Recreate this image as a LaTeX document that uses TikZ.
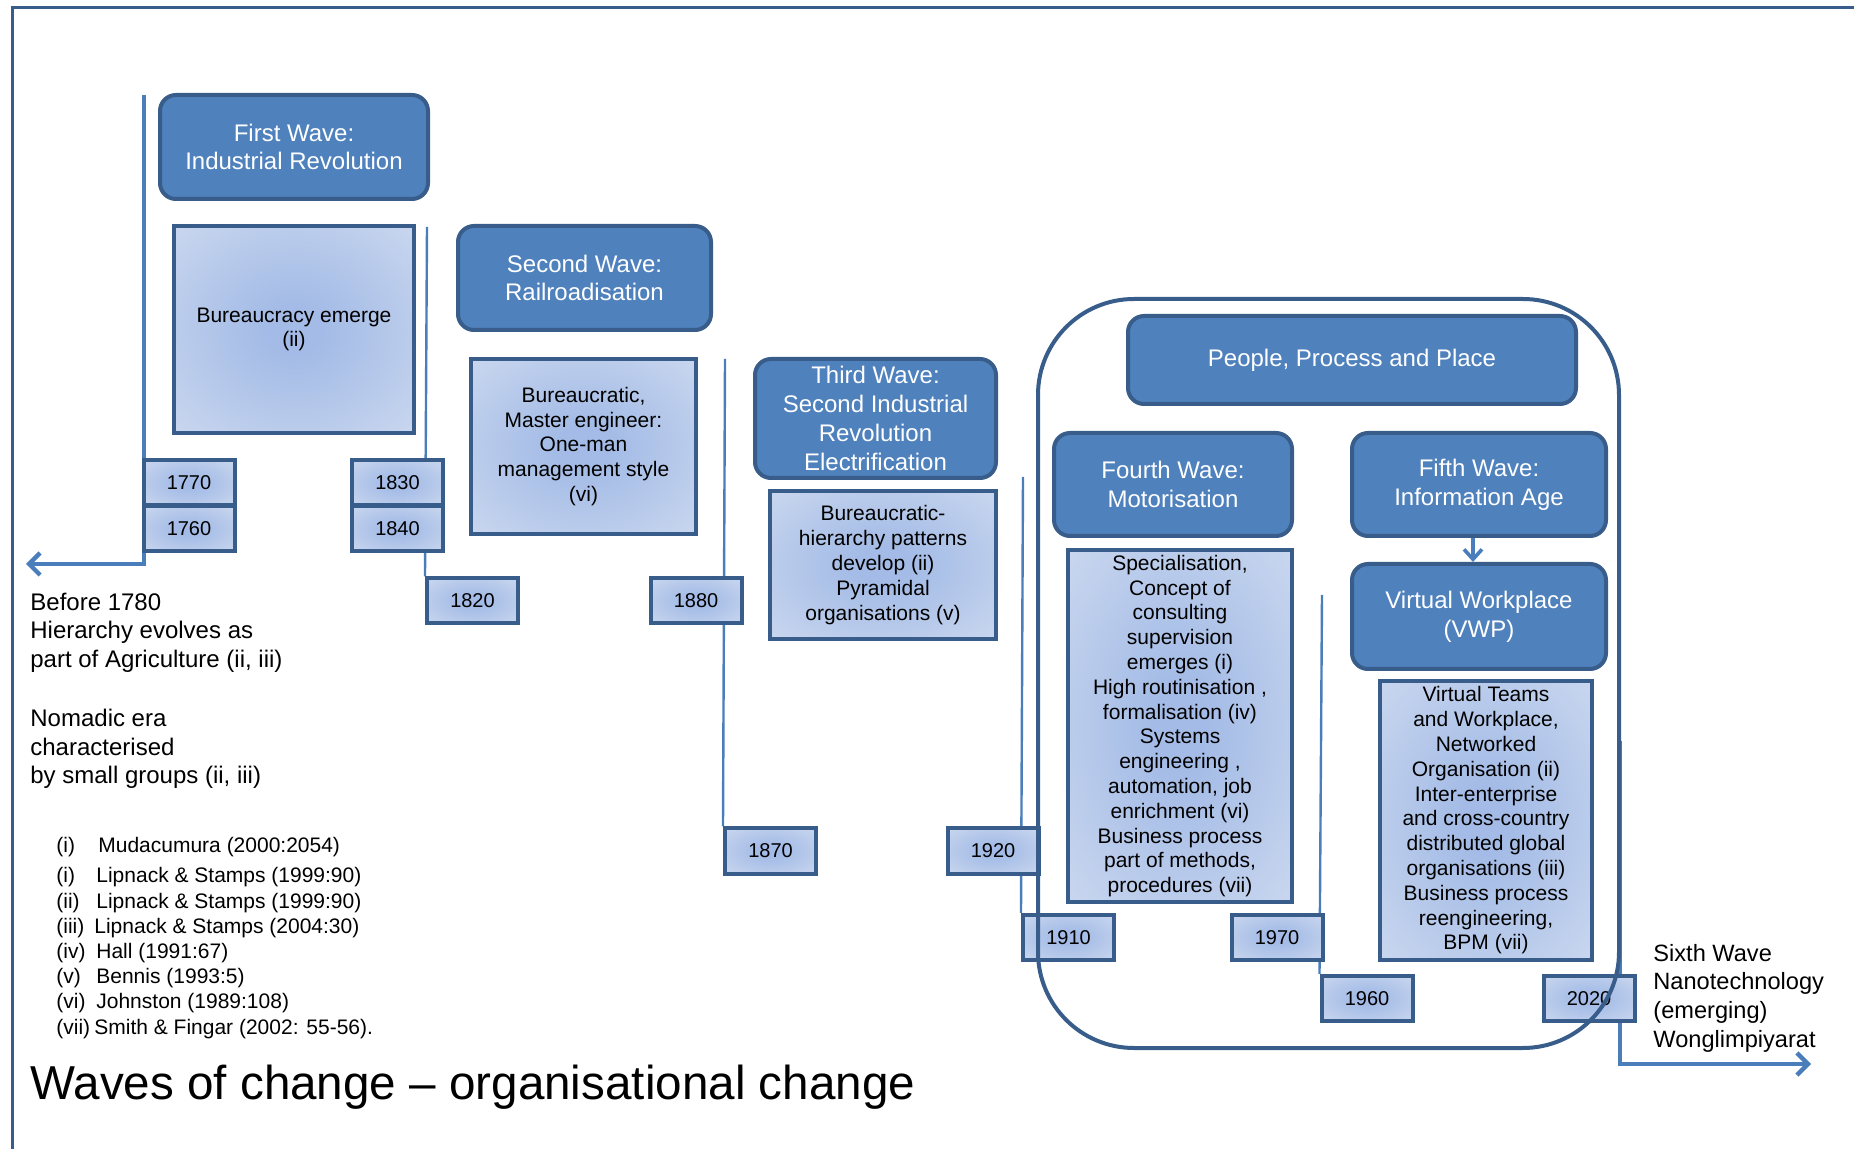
\documentclass[tikz,border=0pt]{standalone}
\usepackage{fontspec}
\setmainfont{Liberation Sans}
\usetikzlibrary{arrows.meta}

\definecolor{waveblue}{HTML}{4F81BD}
\definecolor{edgeblue}{HTML}{385D8A}
\definecolor{lineblue}{HTML}{4A7EBB}
\definecolor{glowin}{HTML}{A3BBE6}
\definecolor{glowout}{HTML}{DCE4F3}
\pgfdeclareradialshading{boxglow}{\pgfpoint{0bp}{0bp}}{color(0bp)=(glowin); color(6bp)=(glowin); color(50bp)=(glowout); color(72bp)=(glowout)}

\pgfdeclarelayer{background}
\pgfsetlayers{background,main}

\tikzset{
  wave/.style={
    rectangle, rounded corners=8pt, draw=edgeblue, fill=waveblue,
    line width=2pt, text=white, align=center, inner sep=1pt,
    font=\fontsize{12}{14.4}\selectfont,
  },
  fact/.style={
    rectangle, draw=edgeblue, line width=2pt, shade, shading=boxglow,
    align=center, inner sep=1pt,
    font=\fontsize{10.5}{12.4}\selectfont,
  },
  year/.style={
    fact, minimum width=45.5pt, minimum height=22.5pt,
    font=\fontsize{10}{12}\selectfont,
  },
  era/.style={
    rectangle, draw=edgeblue, line width=2pt, rounded corners=48pt,
  },
  tline/.style={draw=lineblue, line width=1.2pt},
  note/.style={
    anchor=west, align=left, inner sep=0pt,
    font=\fontsize{12}{14.3}\selectfont,
  },
}

\begin{document}
\begin{tikzpicture}[x=0.5pt, y=-0.5pt, >={Straight Barb[length=5.5pt,width=11pt]}]
    \useasboundingbox (0,0) rectangle (1854,1149);

    % frame (only top and left edge show)
    \draw[edgeblue, line width=1.5pt] (12,1149) -- (12,8) -- (1854,8);

    % where each timeline starts
    \foreach \n/\x/\y in {t1/144/95, t2/427/227, t3/725/359, t4/1023/477, t5/1322/595, t6/1620/741}
        \coordinate (\n) at (\x,\y);
    \coordinate (past) at (26,564);
    \coordinate (future) at (1811,1064);

    % year boxes
    \foreach \yr/\x/\y in {1770/189/483, 1760/189/529, 1830/397.5/483, 1840/397.5/529,
                           1820/472.5/601, 1880/696/601, 1870/770.5/851, 1920/993/851,
                           1910/1068.5/937.5, 1970/1277/937.5, 1960/1367/998.5, 2020/1589/998.5}
        \node[year] (y\yr) at (\x,\y) {\yr};

    % timelines (behind the boxes)
    \begin{pgfonlayer}{background}
        \draw[tline, line width=2.2pt, ->] (t1) |- (past);
        \foreach \n/\yr in {t2/1820, t3/1870, t4/1910, t5/1960}
            \draw[tline] (\n) -- (y\yr.north west);
        \draw[tline, line width=2.2pt, ->] (t6) |- (future);
    \end{pgfonlayer}

    % first to third wave
    \node[wave, minimum width=134pt, minimum height=52pt] (fw1) at (294,147) {First Wave:\\Industrial Revolution};
    \node[fact, minimum width=120pt, minimum height=103.5pt] (bur1) at (294,329.5) {Bureaucracy emerge\\(ii)};
    \node[wave, minimum width=126.5pt, minimum height=52pt] (fw2) at (584.5,278) {Second Wave:\\Railroadisation};
    \node[fact, minimum width=112.5pt, minimum height=87.5pt] (bur2) at (583.5,446.5)
        {Bureaucratic,\\Master engineer:\\One-man\\management style\\(vi)};
    \node[wave, minimum width=120.5pt, minimum height=59.5pt] (fw3) at (875.5,418.5)
        {Third Wave:\\Second Industrial\\Revolution\\Electrification};
    \node[fact, minimum width=113pt, minimum height=74pt] (bur3) at (883,565)
        {Bureaucratic-\\hierarchy patterns\\develop (ii)\\Pyramidal\\organisations (v)};

    % people, process and place
    \node[wave, minimum width=224pt, minimum height=44pt] (ppp) at (1352,360) {People, Process and Place};
    \node[wave, minimum width=119pt, minimum height=51.5pt] (fw4) at (1173,484.5) {Fourth Wave:\\Motorisation};
    \node[wave, minimum width=127pt, minimum height=51.5pt] (fw5) at (1479,484.5) {Fifth Wave:\\Information Age};
    \node[wave, minimum width=127pt, minimum height=52.5pt] (vwp) at (1479,616.5) {Virtual Workplace\\(VWP)};
    \node[fact, minimum width=112pt, minimum height=176pt] (bur4) at (1180,726)
        {Specialisation,\\Concept of\\consulting\\supervision\\emerges (i)\\High routinisation ,\\formalisation (iv)\\Systems\\engineering ,\\automation, job\\enrichment (vi)\\Business process\\part of methods,\\procedures (vii)};
    \node[fact, minimum width=106pt, minimum height=139.5pt] (bur5) at (1486,820.5)
        {Virtual Teams\\and Workplace,\\Networked\\Organisation (ii)\\Inter-enterprise\\and cross-country\\distributed global\\organisations (iii)\\Business process\\reengineering,\\BPM (vii)};
    \draw[tline, line width=1.8pt, ->, >={Straight Barb[length=5pt,width=9pt]}] ([xshift=-3pt]fw5.south) -- ([xshift=-3pt]vwp.north);
    \node[era, minimum width=290.5pt, minimum height=374.5pt] (era) at (1328.5,673.5) {};

    % texts
    \node[note] (before) at (30,632.5) {Before 1780\\Hierarchy evolves as\\part of Agriculture (ii, iii)};
    \node[note] (nomad) at (30,749) {Nomadic era\\characterised\\by small groups (ii, iii)};
    \node[note, font=\fontsize{11.8}{14.3}\selectfont] (sixth) at (1653,998) {Sixth Wave\\Nanotechnology\\(emerging)\\Wonglimpiyarat};
    \node[note, font=\fontsize{10.5}{12.6}\selectfont] (refs) at (56,938)
        {\makebox[21pt][l]{(i)}Mudacumura (2000:2054)\\[2.5pt]
         \makebox[20pt][l]{(i)}Lipnack \& Stamps (1999:90)\\
         \makebox[20pt][l]{(ii)}Lipnack \& Stamps (1999:90)\\
         \makebox[19pt][l]{(iii)}Lipnack \& Stamps (2004:30)\\
         \makebox[20pt][l]{(iv)}Hall (1991:67)\\
         \makebox[20pt][l]{(v)}Bennis (1993:5)\\
         \makebox[20pt][l]{(vi)}Johnston (1989:108)\\
         \makebox[19pt][l]{(vii)}Smith \& Fingar (2002: 55-56).};
    \node[note, font=\fontsize{23.8}{28}\selectfont] (title) at (30,1087) {Waves of change \textendash{} organisational change};
\end{tikzpicture}
\end{document}
